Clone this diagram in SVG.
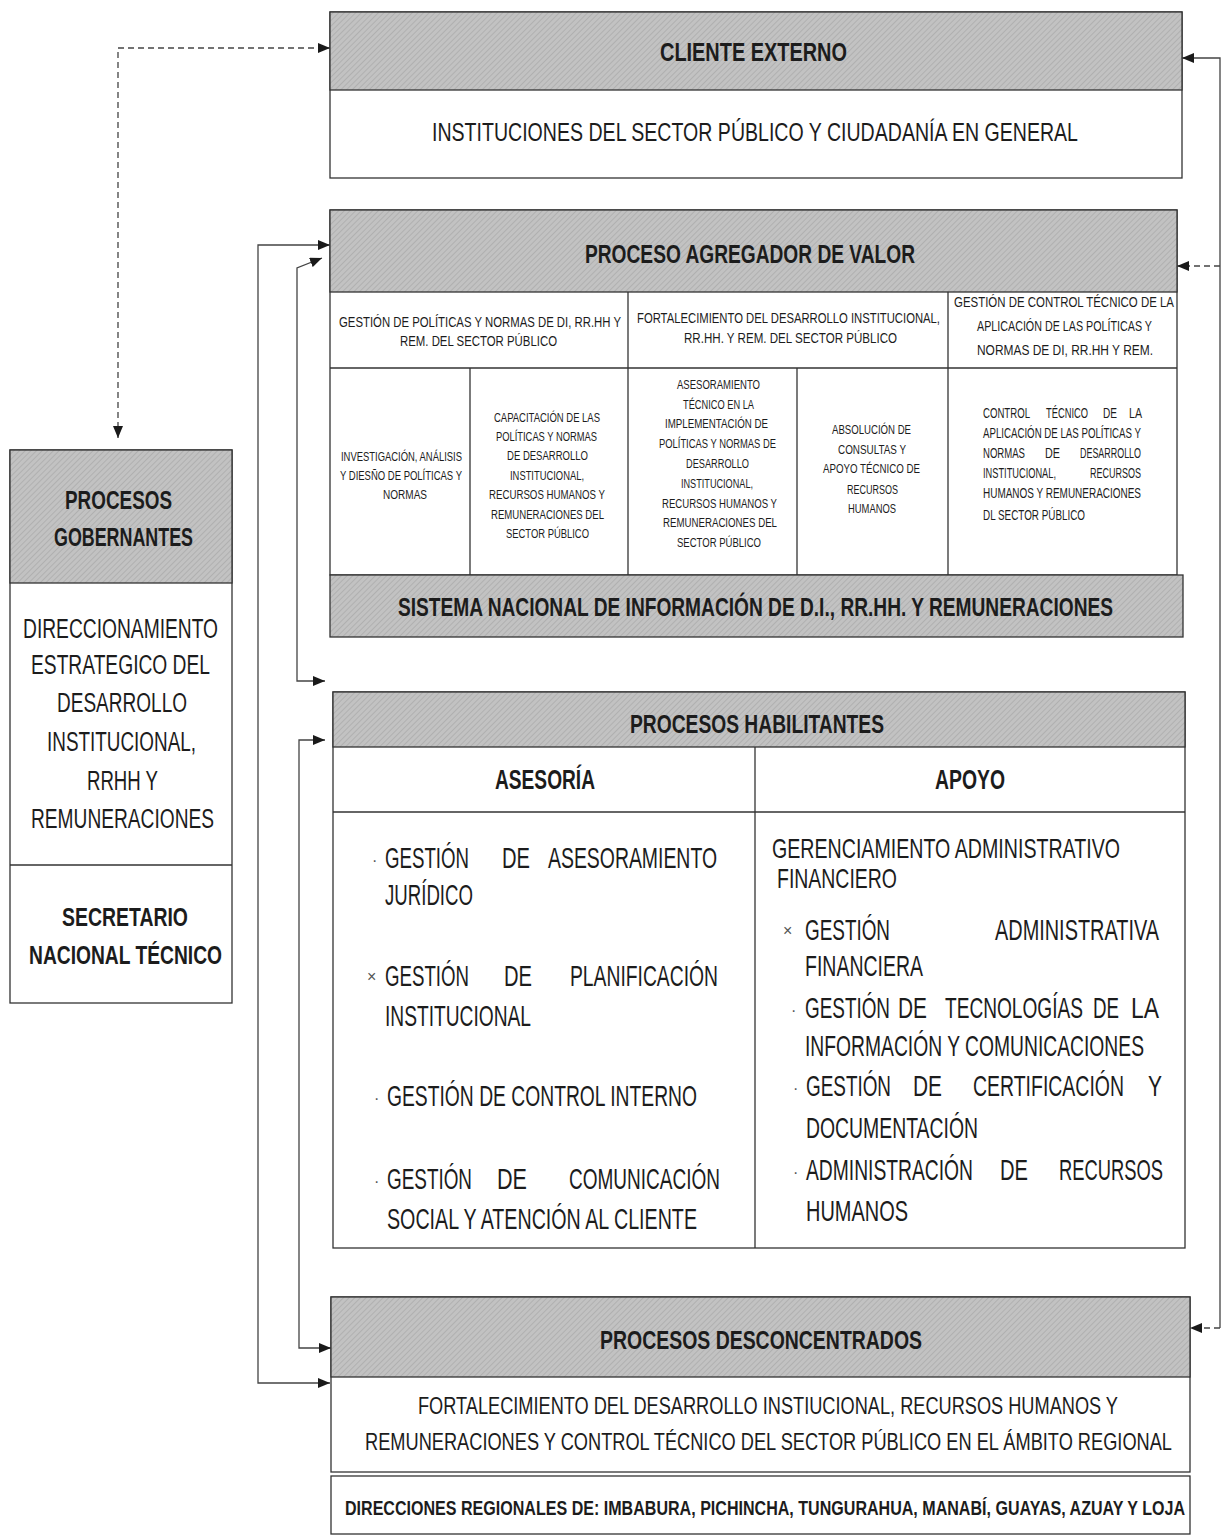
<svg xmlns="http://www.w3.org/2000/svg" width="1228" height="1536" viewBox="0 0 1228 1536">
<defs>
<pattern id="hatch" width="4" height="4" patternUnits="userSpaceOnUse" patternTransform="rotate(45)">
<rect width="4" height="4" fill="#c2c2c2"/>
<line x1="0" y1="0" x2="0" y2="4" stroke="#aaaaaa" stroke-width="1.5"/>
</pattern>
<marker id="arr" viewBox="0 0 12 10" refX="12" refY="5" markerWidth="12" markerHeight="10" markerUnits="userSpaceOnUse" orient="auto-start-reverse">
<path d="M0,0 L12,5 L0,10 Z" fill="#1a1a1a"/>
</marker>
</defs>
<style>
.box{fill:#ffffff;stroke:#333333;stroke-width:1.3}
.hdr{fill:url(#hatch);stroke:#333333;stroke-width:1.3}
.ln{stroke:#333333;stroke-width:1.3;fill:none}
.t{font-family:"Liberation Sans",Arial,sans-serif;fill:#1c1c1c}
.b{font-weight:bold}
.bul{font-family:"Liberation Sans",Arial,sans-serif;fill:#555555;font-size:16px}
.con{fill:none;stroke:#444444;stroke-width:1.3}
.dash{stroke-dasharray:6,4}
</style>
<rect width="1228" height="1536" fill="#ffffff"/>

<g id="cliente-externo">
<rect class="box" x="330" y="12" width="852" height="166"/>
<rect class="hdr" x="330" y="12" width="852" height="78"/>
<text class="t b" x="660" y="61" font-size="25" textLength="187" lengthAdjust="spacingAndGlyphs">CLIENTE EXTERNO</text>
<text class="t" x="432" y="141" font-size="25" textLength="646" lengthAdjust="spacingAndGlyphs">INSTITUCIONES DEL SECTOR PÚBLICO Y CIUDADANÍA EN GENERAL</text>
</g>

<g id="proceso-agregador">
<rect class="box" x="330" y="210" width="847" height="365"/>
<rect class="hdr" x="330" y="210" width="847" height="82"/>
<text class="t b" x="585" y="263" font-size="25" textLength="330" lengthAdjust="spacingAndGlyphs">PROCESO AGREGADOR DE VALOR</text>
<line class="ln" x1="330" y1="368" x2="1177" y2="368"/>
<line class="ln" x1="628" y1="292" x2="628" y2="575"/>
<line class="ln" x1="948" y1="292" x2="948" y2="575"/>
<line class="ln" x1="470" y1="368" x2="470" y2="575"/>
<line class="ln" x1="797" y1="368" x2="797" y2="575"/>
<text class="t" x="339" y="327" font-size="14" textLength="282" lengthAdjust="spacingAndGlyphs">GESTIÓN DE POLÍTICAS Y NORMAS DE DI, RR.HH Y</text>
<text class="t" x="400" y="346" font-size="14" textLength="157" lengthAdjust="spacingAndGlyphs">REM. DEL SECTOR PÚBLICO</text>
<text class="t" x="637" y="323" font-size="14" textLength="303" lengthAdjust="spacingAndGlyphs">FORTALECIMIENTO DEL DESARROLLO INSTITUCIONAL,</text>
<text class="t" x="684" y="343" font-size="14" textLength="213" lengthAdjust="spacingAndGlyphs">RR.HH. Y REM. DEL SECTOR PÚBLICO</text>
<text class="t" x="954" y="307" font-size="14" textLength="220" lengthAdjust="spacingAndGlyphs">GESTIÓN DE CONTROL TÉCNICO DE LA</text>
<text class="t" x="977" y="331" font-size="14" textLength="175" lengthAdjust="spacingAndGlyphs">APLICACIÓN DE LAS POLÍTICAS Y</text>
<text class="t" x="977" y="355" font-size="14" textLength="176" lengthAdjust="spacingAndGlyphs">NORMAS DE DI, RR.HH Y REM.</text>

<text class="t" x="341" y="461" font-size="12" textLength="121" lengthAdjust="spacingAndGlyphs">INVESTIGACIÓN, ANÁLISIS</text>
<text class="t" x="340" y="480" font-size="12" textLength="122" lengthAdjust="spacingAndGlyphs">Y DIESÑO DE POLÍTICAS Y</text>
<text class="t" x="383" y="499" font-size="12" textLength="44" lengthAdjust="spacingAndGlyphs">NORMAS</text>

<text class="t" x="494" y="422" font-size="12" textLength="106" lengthAdjust="spacingAndGlyphs">CAPACITACIÓN DE LAS</text>
<text class="t" x="496" y="441" font-size="12" textLength="101" lengthAdjust="spacingAndGlyphs">POLÍTICAS Y NORMAS</text>
<text class="t" x="507" y="460" font-size="12" textLength="81" lengthAdjust="spacingAndGlyphs">DE DESARROLLO</text>
<text class="t" x="510" y="480" font-size="12" textLength="74" lengthAdjust="spacingAndGlyphs">INSTITUCIONAL,</text>
<text class="t" x="489" y="499" font-size="12" textLength="116" lengthAdjust="spacingAndGlyphs">RECURSOS HUMANOS Y</text>
<text class="t" x="491" y="519" font-size="12" textLength="113" lengthAdjust="spacingAndGlyphs">REMUNERACIONES DEL</text>
<text class="t" x="506" y="538" font-size="12" textLength="83" lengthAdjust="spacingAndGlyphs">SECTOR PÚBLICO</text>

<text class="t" x="677" y="389" font-size="12" textLength="83" lengthAdjust="spacingAndGlyphs">ASESORAMIENTO</text>
<text class="t" x="683" y="409" font-size="12" textLength="71" lengthAdjust="spacingAndGlyphs">TÉCNICO EN LA</text>
<text class="t" x="665" y="428" font-size="12" textLength="103" lengthAdjust="spacingAndGlyphs">IMPLEMENTACIÓN DE</text>
<text class="t" x="659" y="448" font-size="12" textLength="117" lengthAdjust="spacingAndGlyphs">POLÍTICAS Y NORMAS DE</text>
<text class="t" x="686" y="468" font-size="12" textLength="63" lengthAdjust="spacingAndGlyphs">DESARROLLO</text>
<text class="t" x="681" y="488" font-size="12" textLength="72" lengthAdjust="spacingAndGlyphs">INSTITUCIONAL,</text>
<text class="t" x="662" y="508" font-size="12" textLength="115" lengthAdjust="spacingAndGlyphs">RECURSOS HUMANOS Y</text>
<text class="t" x="663" y="527" font-size="12" textLength="114" lengthAdjust="spacingAndGlyphs">REMUNERACIONES DEL</text>
<text class="t" x="677" y="547" font-size="12" textLength="84" lengthAdjust="spacingAndGlyphs">SECTOR PÚBLICO</text>

<text class="t" x="832" y="434" font-size="12" textLength="79" lengthAdjust="spacingAndGlyphs">ABSOLUCIÓN DE</text>
<text class="t" x="838" y="454" font-size="12" textLength="68" lengthAdjust="spacingAndGlyphs">CONSULTAS Y</text>
<text class="t" x="823" y="473" font-size="12" textLength="97" lengthAdjust="spacingAndGlyphs">APOYO TÉCNICO DE</text>
<text class="t" x="847" y="494" font-size="12" textLength="51" lengthAdjust="spacingAndGlyphs">RECURSOS</text>
<text class="t" x="848" y="513" font-size="12" textLength="48" lengthAdjust="spacingAndGlyphs">HUMANOS</text>

<text class="t" x="983" y="418" font-size="14" textLength="47" lengthAdjust="spacingAndGlyphs">CONTROL</text>
<text class="t" x="1046" y="418" font-size="14" textLength="42" lengthAdjust="spacingAndGlyphs">TÉCNICO</text>
<text class="t" x="1103" y="418" font-size="14" textLength="14" lengthAdjust="spacingAndGlyphs">DE</text>
<text class="t" x="1129" y="418" font-size="14" textLength="13" lengthAdjust="spacingAndGlyphs">LA</text>
<text class="t" x="983" y="438" font-size="14" textLength="158" lengthAdjust="spacingAndGlyphs">APLICACIÓN DE LAS POLÍTICAS Y</text>
<text class="t" x="983" y="458" font-size="14" textLength="42" lengthAdjust="spacingAndGlyphs">NORMAS</text>
<text class="t" x="1045" y="458" font-size="14" textLength="15" lengthAdjust="spacingAndGlyphs">DE</text>
<text class="t" x="1080" y="458" font-size="14" textLength="61" lengthAdjust="spacingAndGlyphs">DESARROLLO</text>
<text class="t" x="983" y="478" font-size="14" textLength="73" lengthAdjust="spacingAndGlyphs">INSTITUCIONAL,</text>
<text class="t" x="1090" y="478" font-size="14" textLength="51" lengthAdjust="spacingAndGlyphs">RECURSOS</text>
<text class="t" x="983" y="498" font-size="14" textLength="158" lengthAdjust="spacingAndGlyphs">HUMANOS Y REMUNERACIONES</text>
<text class="t" x="983" y="520" font-size="14" textLength="102" lengthAdjust="spacingAndGlyphs">DL SECTOR PÚBLICO</text>
</g>

<g id="sistema-nacional">
<rect class="hdr" x="330" y="575" width="853" height="62"/>
<text class="t b" x="398" y="616" font-size="25" textLength="715" lengthAdjust="spacingAndGlyphs">SISTEMA NACIONAL DE INFORMACIÓN DE D.I., RR.HH. Y REMUNERACIONES</text>
</g>

<g id="procesos-gobernantes">
<rect class="box" x="10" y="450" width="222" height="553"/>
<rect class="hdr" x="10" y="450" width="222" height="133"/>
<line class="ln" x1="10" y1="865" x2="232" y2="865"/>
<text class="t b" x="65" y="509" font-size="26" textLength="107" lengthAdjust="spacingAndGlyphs">PROCESOS</text>
<text class="t b" x="54" y="546" font-size="26" textLength="139" lengthAdjust="spacingAndGlyphs">GOBERNANTES</text>
<text class="t" x="23" y="638" font-size="27" textLength="195" lengthAdjust="spacingAndGlyphs">DIRECCIONAMIENTO</text>
<text class="t" x="31" y="674" font-size="27" textLength="179" lengthAdjust="spacingAndGlyphs">ESTRATEGICO DEL</text>
<text class="t" x="57" y="712" font-size="27" textLength="130" lengthAdjust="spacingAndGlyphs">DESARROLLO</text>
<text class="t" x="47" y="751" font-size="27" textLength="149" lengthAdjust="spacingAndGlyphs">INSTITUCIONAL,</text>
<text class="t" x="87" y="790" font-size="27" textLength="71" lengthAdjust="spacingAndGlyphs">RRHH Y</text>
<text class="t" x="31" y="828" font-size="27" textLength="183" lengthAdjust="spacingAndGlyphs">REMUNERACIONES</text>
<text class="t b" x="62" y="926" font-size="25" textLength="126" lengthAdjust="spacingAndGlyphs">SECRETARIO</text>
<text class="t b" x="29" y="964" font-size="25" textLength="193" lengthAdjust="spacingAndGlyphs">NACIONAL TÉCNICO</text>
</g>

<g id="procesos-habilitantes">
<rect class="box" x="333" y="692" width="852" height="556"/>
<rect class="hdr" x="333" y="692" width="852" height="55"/>
<text class="t b" x="630" y="733" font-size="25" textLength="254" lengthAdjust="spacingAndGlyphs">PROCESOS HABILITANTES</text>
<line class="ln" x1="333" y1="812" x2="1185" y2="812"/>
<line class="ln" x1="755" y1="747" x2="755" y2="1248"/>
<text class="t b" x="495" y="789" font-size="27" textLength="100" lengthAdjust="spacingAndGlyphs">ASESORÍA</text>
<text class="t b" x="935" y="789" font-size="27" textLength="70" lengthAdjust="spacingAndGlyphs">APOYO</text>

<text class="bul" x="372" y="866">·</text>
<text class="t" x="385" y="868" font-size="30" textLength="84" lengthAdjust="spacingAndGlyphs">GESTIÓN</text>
<text class="t" x="502" y="868" font-size="30" textLength="28" lengthAdjust="spacingAndGlyphs">DE</text>
<text class="t" x="548" y="868" font-size="30" textLength="169" lengthAdjust="spacingAndGlyphs">ASESORAMIENTO</text>
<text class="t" x="385" y="905" font-size="30" textLength="88" lengthAdjust="spacingAndGlyphs">JURÍDICO</text>

<text class="bul" x="367" y="982">×</text>
<text class="t" x="385" y="986" font-size="30" textLength="84" lengthAdjust="spacingAndGlyphs">GESTIÓN</text>
<text class="t" x="504" y="986" font-size="30" textLength="28" lengthAdjust="spacingAndGlyphs">DE</text>
<text class="t" x="570" y="986" font-size="30" textLength="148" lengthAdjust="spacingAndGlyphs">PLANIFICACIÓN</text>
<text class="t" x="385" y="1026" font-size="30" textLength="146" lengthAdjust="spacingAndGlyphs">INSTITUCIONAL</text>

<text class="bul" x="374" y="1104">·</text>
<text class="t" x="387" y="1106" font-size="30" textLength="310" lengthAdjust="spacingAndGlyphs">GESTIÓN DE CONTROL INTERNO</text>

<text class="bul" x="374" y="1187">·</text>
<text class="t" x="387" y="1189" font-size="30" textLength="85" lengthAdjust="spacingAndGlyphs">GESTIÓN</text>
<text class="t" x="497" y="1189" font-size="30" textLength="30" lengthAdjust="spacingAndGlyphs">DE</text>
<text class="t" x="569" y="1189" font-size="30" textLength="151" lengthAdjust="spacingAndGlyphs">COMUNICACIÓN</text>
<text class="t" x="387" y="1229" font-size="30" textLength="310" lengthAdjust="spacingAndGlyphs">SOCIAL  Y ATENCIÓN AL CLIENTE</text>

<text class="t" x="772" y="858" font-size="28" textLength="348" lengthAdjust="spacingAndGlyphs">GERENCIAMIENTO ADMINISTRATIVO</text>
<text class="t" x="777" y="888" font-size="28" textLength="120" lengthAdjust="spacingAndGlyphs">FINANCIERO</text>

<text class="bul" x="783" y="936">×</text>
<text class="t" x="805" y="940" font-size="30" textLength="85" lengthAdjust="spacingAndGlyphs">GESTIÓN</text>
<text class="t" x="995" y="940" font-size="30" textLength="164" lengthAdjust="spacingAndGlyphs">ADMINISTRATIVA</text>
<text class="t" x="805" y="976" font-size="30" textLength="118" lengthAdjust="spacingAndGlyphs">FINANCIERA</text>

<text class="bul" x="791" y="1016">·</text>
<text class="t" x="805" y="1018" font-size="30" textLength="85" lengthAdjust="spacingAndGlyphs">GESTIÓN</text>
<text class="t" x="898" y="1018" font-size="30" textLength="29" lengthAdjust="spacingAndGlyphs">DE</text>
<text class="t" x="945" y="1018" font-size="30" textLength="138" lengthAdjust="spacingAndGlyphs">TECNOLOGÍAS</text>
<text class="t" x="1093" y="1018" font-size="30" textLength="26" lengthAdjust="spacingAndGlyphs">DE</text>
<text class="t" x="1131" y="1018" font-size="30" textLength="28" lengthAdjust="spacingAndGlyphs">LA</text>
<text class="t" x="805" y="1056" font-size="30" textLength="339" lengthAdjust="spacingAndGlyphs">INFORMACIÓN Y COMUNICACIONES</text>

<text class="bul" x="793" y="1094">·</text>
<text class="t" x="806" y="1096" font-size="30" textLength="85" lengthAdjust="spacingAndGlyphs">GESTIÓN</text>
<text class="t" x="913" y="1096" font-size="30" textLength="29" lengthAdjust="spacingAndGlyphs">DE</text>
<text class="t" x="973" y="1096" font-size="30" textLength="151" lengthAdjust="spacingAndGlyphs">CERTIFICACIÓN</text>
<text class="t" x="1148" y="1096" font-size="30" textLength="14" lengthAdjust="spacingAndGlyphs">Y</text>
<text class="t" x="806" y="1138" font-size="30" textLength="172" lengthAdjust="spacingAndGlyphs">DOCUMENTACIÓN</text>

<text class="bul" x="793" y="1178">·</text>
<text class="t" x="806" y="1180" font-size="30" textLength="167" lengthAdjust="spacingAndGlyphs">ADMINISTRACIÓN</text>
<text class="t" x="1000" y="1180" font-size="30" textLength="28" lengthAdjust="spacingAndGlyphs">DE</text>
<text class="t" x="1059" y="1180" font-size="30" textLength="104" lengthAdjust="spacingAndGlyphs">RECURSOS</text>
<text class="t" x="806" y="1221" font-size="30" textLength="102" lengthAdjust="spacingAndGlyphs">HUMANOS</text>
</g>

<g id="procesos-desconcentrados">
<rect class="box" x="331" y="1297" width="859" height="175"/>
<rect class="hdr" x="331" y="1297" width="859" height="80"/>
<text class="t b" x="600" y="1349" font-size="25" textLength="322" lengthAdjust="spacingAndGlyphs">PROCESOS DESCONCENTRADOS</text>
<text class="t" x="418" y="1414" font-size="24" textLength="700" lengthAdjust="spacingAndGlyphs">FORTALECIMIENTO DEL DESARROLLO INSTIUCIONAL, RECURSOS HUMANOS Y</text>
<text class="t" x="365" y="1450" font-size="24" textLength="807" lengthAdjust="spacingAndGlyphs">REMUNERACIONES Y CONTROL TÉCNICO DEL SECTOR PÚBLICO EN EL ÁMBITO REGIONAL</text>
</g>

<g id="direcciones-regionales">
<rect class="box" x="331" y="1476" width="859" height="58"/>
<text class="t b" x="345" y="1515" font-size="20" textLength="840" lengthAdjust="spacingAndGlyphs">DIRECCIONES REGIONALES DE: IMBABURA, PICHINCHA, TUNGURAHUA, MANABÍ, GUAYAS, AZUAY Y LOJA</text>
</g>

<g id="connectors">
<path class="con dash" d="M118,438 V48 H330" marker-start="url(#arr)" marker-end="url(#arr)"/>
<path class="con" d="M330,245 H258 V1383 H330" marker-start="url(#arr)" marker-end="url(#arr)"/>
<path class="con" d="M322,258 L297,268 V681 H325" marker-start="url(#arr)" marker-end="url(#arr)"/>
<path class="con" d="M325,740 H299 V1348 H331" marker-start="url(#arr)" marker-end="url(#arr)"/>
<path class="con" d="M1182,58 H1220 V1328" marker-start="url(#arr)"/>
<path class="con dash" d="M1220,266 H1177" marker-end="url(#arr)"/>
<path class="con dash" d="M1220,1328 H1190" marker-end="url(#arr)"/>
</g>
</svg>
